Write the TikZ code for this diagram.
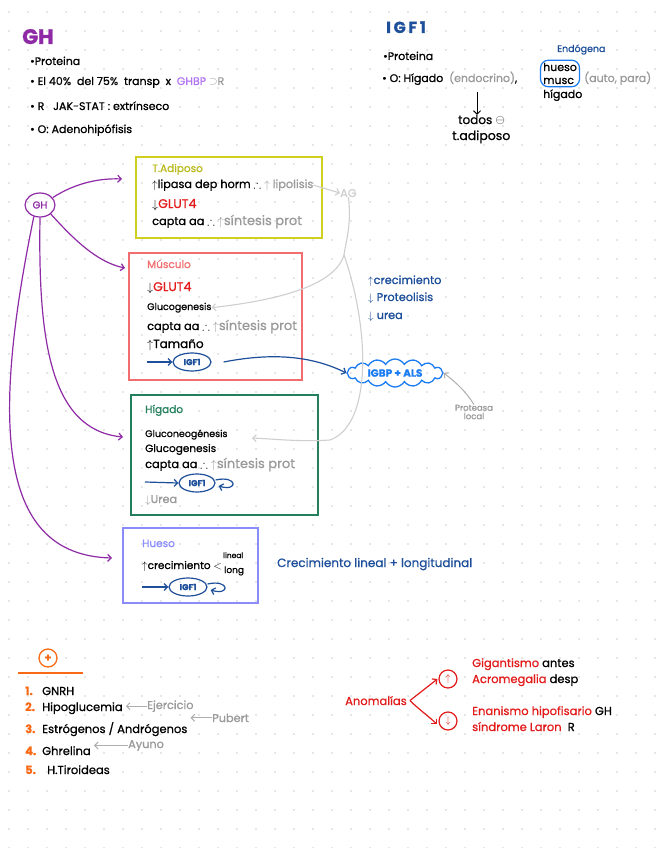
\documentclass[tikz,border=0pt]{standalone}
\usepackage{fontspec}
\setmainfont{Poppins}[FakeBold=0.8]
\usepackage{amssymb}
\usetikzlibrary{arrows.meta, positioning, shapes.symbols, shapes.geometric, fit}
\definecolor{cPurple}{HTML}{8E2AA5}
\definecolor{cLav}{HTML}{B374F2}
\definecolor{cYellow}{HTML}{CFCF1F}
\definecolor{cSalmon}{HTML}{F26D6D}
\definecolor{cRed}{HTML}{E31B1B}
\definecolor{cGreen}{HTML}{237F5C}
\definecolor{cPeri}{HTML}{8A8CFA}
\definecolor{cNavy}{HTML}{1D4F9A}
\definecolor{cBlue}{HTML}{1A7CF2}
\definecolor{cGray}{HTML}{9A9A9A}
\definecolor{cLGray}{HTML}{CFCFCF}
\definecolor{cOrange}{HTML}{FA6A16}
\definecolor{cDot}{HTML}{CDD0D0}
\newcommand{\fs}[1]{\fontsize{#1}{#1}\selectfont}
\newcommand{\sintesis}{\textcolor{cGray}{\fs{13}$\uparrow$síntesis prot}}

\begin{document}
\begin{tikzpicture}[
  x=1pt, y=-1pt,
  txt/.style={anchor=base west, inner sep=0pt, font=\fs{11.3}},
  big/.style={txt, font=\fs{12.5}},
  note/.style={txt, font=\fs{11}},
  tiny/.style={txt, font=\fs{7.5}},
  boxtitle/.style={txt, font=\fs{10.5}},
  title/.style={anchor=base west, inner sep=0pt, font=\fs{21}\bfseries},
  nbox/.style={draw, line width=1.3pt, inner sep=0pt},
  igf/.style={ellipse, draw=cNavy, line width=1.2pt, text=cNavy, inner sep=0pt,
              minimum width=38pt, minimum height=18pt, font=\fs{8.5}\bfseries},
  tip/.style={-{Straight Barb[length=3.5pt, width=7pt]}},
  ghar/.style={tip, line width=1.2pt, cPurple},
  bar/.style={tip, line width=1.2pt, cNavy},
  bkar/.style={tip, line width=1pt, black},
  grar/.style={tip, line width=1pt, cGray!80},
  lgar/.style={tip, line width=1.1pt, cLGray},
  redar/.style={tip, line width=1.2pt, cRed},
]
% page and dotted paper
\fill[white] (0,0) rectangle (656,848);
\useasboundingbox (0,0) rectangle (656,848);
\foreach \x in {9,28,...,656}
  \foreach \y in {12,31,...,848}
    \fill[cDot] (\x,\y) circle (0.9pt);

% GH header
\node[title, text=cPurple] (ghtitle) at (22,44) {GH};
\node[note] (gh1) at (30,65) {\textbullet Proteina};
\node[note] (gh2) at (30,85) {\textbullet\ El 40\%\ \ del 75\%\ \ transp\ \ x\ \ \textcolor{cLav}{GHBP}\ \textcolor{cGray}{$\supset$R}};
\node[note] (gh3) at (30,110) {\textbullet\ R\ \ \ JAK-STAT : extrínseco};
\node[note] (gh4) at (30,133) {\textbullet\ O:\ Adenohipófisis};

% IGF1 header
\node[title, text=cNavy, font=\fs{16}\bfseries] (igftitle) at (386,33) {I\,G\,F\,1};
\node[note] (igf1) at (383,60) {\textbullet Proteina};
\node[note] (igf2) at (382,82) {\textbullet\ O: Hígado\ \ \textcolor{cGray}{(endocrino)},};
\node[note] (ihueso) at (543,71) {hueso};
\node[note] (imusc) at (543,84) {musc};
\node[note] (ihig) at (543,98) {hígado};
\node[draw=cBlue, line width=1.2pt, rounded corners=8pt, inner sep=2.5pt, fit=(ihueso)(imusc)] (endo) {};
\node[note, text=cNavy, font=\fs{9.5}] (endolab) at (557,52) {Endógena};
\node[note, text=cGray] (autopara) at (584,82) {(auto, para)};
\node[note, font=\fs{12}] (todos) at (458,124) {todos $\ominus$};
\node[note, font=\fs{12.5}] (tadipo) at (452,140) {t.adiposo};
\coordinate (hdown) at (477,92);
\draw[bkar] (hdown) -- (hdown |- todos.north);

% GH and its targets
\node[ellipse, draw=cPurple, line width=1.2pt, text=cPurple, minimum width=30pt,
      minimum height=24pt, inner sep=0pt, font=\fs{10}] (gh) at (40,205) {GH};

\node[nbox, draw=cYellow, fit={(136,157) (322,238)}] (adip) {};
\node[boxtitle, text=cYellow!90!black] (adipT) at (152,172) {T.Adiposo};
\node[txt] (adip1) at (152,188) {$\uparrow$lipasa dep horm $\therefore$ \textcolor{cGray}{$\uparrow$ lipolisis}};
\node[big] (adip2) at (152,208) {$\downarrow$\textcolor{cRed}{GLUT4}};
\node[txt] (adip3) at (152,225) {capta aa $\therefore$ \sintesis};
\node[txt, text=cLGray] (ag) at (340,197) {AG};

\node[nbox, draw=cSalmon, fit={(129,253) (302,380)}] (musc) {};
\node[boxtitle, text=cSalmon] (muscT) at (147,268) {Músculo};
\node[big] (musc1) at (147,291) {$\downarrow$\textcolor{cRed}{GLUT4}};
\node[txt, font=\fs{9.5}] (musc2) at (147,310) {Glucogenesis};
\node[txt] (musc3) at (147,330) {capta aa $\therefore$ \sintesis};
\node[txt, font=\fs{12}] (musc4) at (147,348) {$\uparrow$Tamaño};
\node[igf] (migf) at (192,362) {IGF1};
\coordinate (min) at (147,362);

\node[nbox, draw=cGreen, fit={(131,395) (318,515)}] (hig) {};
\node[boxtitle, text=cGreen] (higT) at (145,413) {Hígado};
\node[txt, font=\fs{9.5}] (hig1) at (145,437) {Gluconeogénesis};
\node[txt, font=\fs{10.5}] (hig2) at (145,452) {Glucogenesis};
\node[txt] (hig3) at (145,468) {capta aa $\therefore$ \sintesis};
\node[igf, minimum width=36pt] (higf) at (197,483) {IGF1};
\coordinate (hin) at (145,482);
\node[txt, text=cGray] (hig4) at (145,503) {$\downarrow$Urea};

\node[nbox, draw=cPeri, fit={(123,528) (258,603)}] (hue) {};
\node[boxtitle, text=cPeri] (hueT) at (142,547) {Hueso};
\node[txt, font=\fs{10.5}] (hue1) at (142,569) {$\uparrow$crecimiento $<$};
\node[tiny] (hlin) at (223,558) {lineal};
\node[tiny, font=\fs{9}] (hlong) at (224,573) {long};
\node[igf] (huigf) at (188,587) {IGF1};
\coordinate (huin) at (142,587);
\node[txt, text=cNavy, font=\fs{12}] (crec) at (277,567) {Crecimiento lineal + longitudinal};

% IGF1 in the blood
\node[txt, text=cNavy] (eff1) at (368,284) {$\uparrow$crecimiento};
\node[txt, text=cNavy] (eff2) at (368,301) {$\downarrow$ Proteolisis};
\node[txt, text=cNavy] (eff3) at (368,319) {$\downarrow$ urea};
\node[cloud, cloud puffs=16, cloud puff arc=120, aspect=4, draw=cBlue, line width=1.3pt,
      text=cBlue, minimum width=96pt, minimum height=28pt, inner sep=0pt,
      font=\fs{10.5}\bfseries] (igbp) at (395,373) {IGBP + ALS};
\node[tiny, text=cGray, align=center, font=\fs{8.5}, anchor=center] (prot) at (474,412) {Proteasa\\local};

% connectors
\draw[ghar] (gh.30) .. controls (75,183) and (100,178) .. (122,179);
\draw[ghar] (gh.-40) .. controls (70,235) and (95,262) .. (125,268);
\draw[ghar] (gh.-90) .. controls (38,340) and (50,430) .. (123,437);
\draw[ghar] (gh.-118) .. controls (-10,430) and (0,555) .. (112,558);

\draw[lgar] (adip1.east) -- (ag.west);
\coordinate (split) at (344,255);
\draw[cLGray, line width=1.1pt] (ag.south) .. controls (352,225) and (345,245) .. (split);
\draw[lgar] (split) .. controls (335,285) and (280,300) .. (musc2.east);
\draw[lgar] (split) .. controls (370,330) and (372,425) .. (330,440)
  .. controls (300,442) and (275,439) .. (252,438);

\draw[bar] (min) -- (migf.west);
\draw[bar] ([xshift=12pt]migf.east) .. controls (270,353) and (310,355) .. (igbp.west);
\draw[bar] (hin) -- (higf.west);
\draw[bar] ([yshift=3pt]higf.east) .. controls +(22,-5) and +(20,6) .. ([xshift=3pt,yshift=-3pt]higf.east);
\draw[bar] (huin) -- (huigf.west);
\draw[bar] ([yshift=3pt]huigf.east) .. controls +(22,-5) and +(20,6) .. ([xshift=3pt,yshift=-3pt]huigf.east);
\draw[grar] (prot.north) .. controls (466,392) and (458,384) .. (igbp.east);

% stimuli
\node[circle, draw=cOrange, line width=1.3pt, minimum size=18pt, inner sep=0pt, text=cOrange,
      font=\fs{11}\bfseries] (plus) at (48,658) {+};
\draw[cOrange, line width=1.3pt] (18,673) -- (83,673);
\node[txt, text=cOrange, font=\fs{11.5}\bfseries] (n1) at (25,695) {1.};
\node[txt, font=\fs{11.5}] (s1) at (42,695) {GNRH};
\node[txt, text=cOrange, font=\fs{11.5}\bfseries] (n2) at (25,711) {2.};
\node[txt, font=\fs{11.5}] (s2) at (42,711) {Hipoglucemia};
\node[txt, text=cGray] (a2) at (147,709) {Ejercicio};
\node[txt, text=cOrange, font=\fs{11.5}\bfseries] (n3) at (25,733) {3.};
\node[txt, font=\fs{11.5}] (s3) at (42,733) {Estrógenos / Andrógenos};
\node[txt, text=cGray] (a3) at (212,722) {Pubert};
\node[txt, text=cOrange, font=\fs{11.5}\bfseries] (n4) at (25,755) {4.};
\node[txt, font=\fs{11.5}] (s4) at (42,755) {Ghrelina};
\node[txt, text=cGray] (a4) at (128,748) {Ayuno};
\node[txt, text=cOrange, font=\fs{11.5}\bfseries] (n5) at (25,774) {5.};
\node[txt, font=\fs{11.5}] (s5) at (47,774) {H.Tiroideas};
\draw[grar, shorten >=3pt] (a2.west) -- (s2.east |- a2.west);
\draw[grar, shorten >=3pt] (a3.west) -- (s3.east |- a3.west);
\draw[grar, shorten >=3pt] (a4.west) -- (s4.east |- a4.west);

% anomalies
\node[txt, text=cRed, font=\fs{11.5}] (anom) at (345,705) {Anomalías};
\node[circle, draw=cRed, line width=1.2pt, minimum size=18pt, inner sep=0pt, text=cRed] (up) at (448,679) {$\uparrow$};
\node[circle, draw=cRed, line width=1.2pt, minimum size=18pt, inner sep=0pt, text=cRed] (dn) at (448,721) {$\downarrow$};
\node[txt, text=cRed, font=\fs{11.5}] (an1) at (472,667) {Gigantismo \textcolor{black}{antes}};
\node[txt, text=cRed, font=\fs{11.5}] (an2) at (472,683) {Acromegalia \textcolor{black}{desp}};
\node[txt, text=cRed, font=\fs{11.5}] (an3) at (472,715) {Enanismo hipofisario \textcolor{black}{GH}};
\node[txt, text=cRed, font=\fs{11.5}] (an4) at (472,731) {síndrome Laron \ \textcolor{black}{R}};
\draw[redar] ([xshift=3pt]anom.east) -- ([xshift=-1pt]up.west);
\draw[redar] ([xshift=3pt]anom.east) .. controls +(8,8) and +(-6,-6) .. ([xshift=-2pt]dn.200);
\end{tikzpicture}
\end{document}
